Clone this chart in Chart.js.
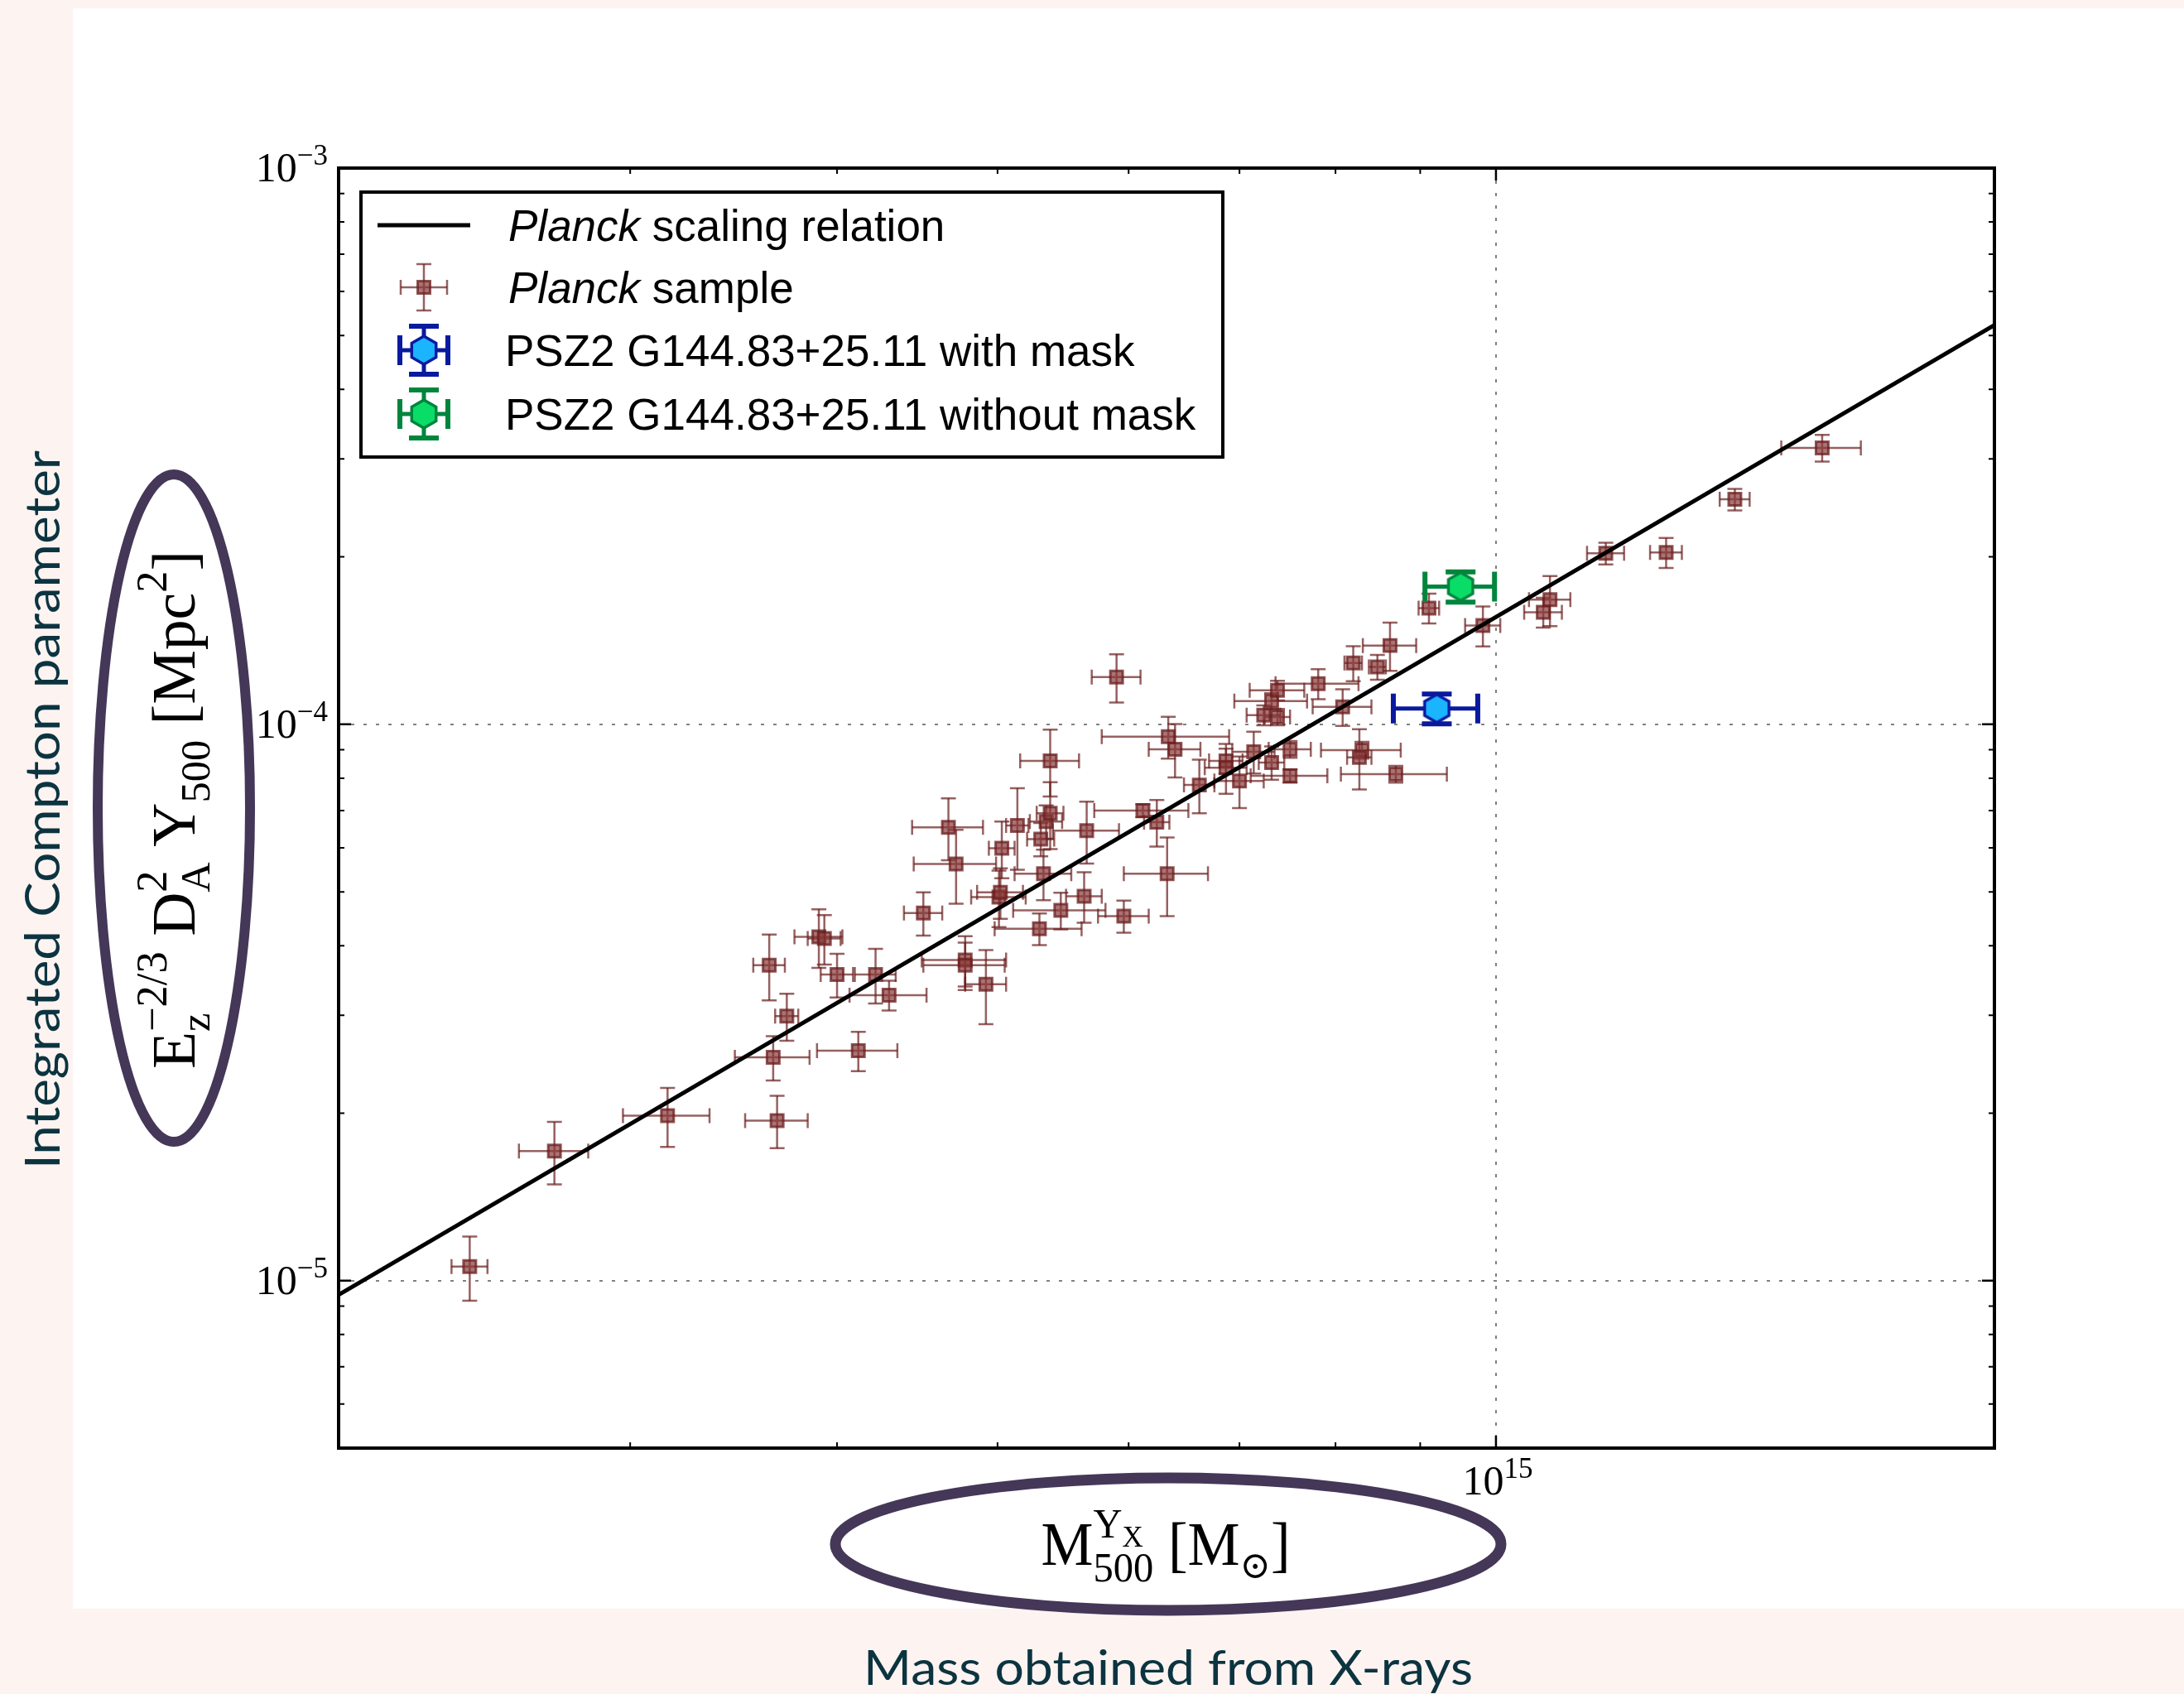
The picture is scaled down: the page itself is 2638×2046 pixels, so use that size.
<!DOCTYPE html>
<html>
<head>
<meta charset="utf-8">
<script src="https://cdn.jsdelivr.net/npm/chart.js@4.4.1/dist/chart.umd.min.js"></script>
<style>
  html, body { margin: 0; padding: 0; background: #fdf3f1; }
  canvas { display: block; }
</style>
</head>
<body>
<canvas id="chart" width="2638" height="2046"></canvas>
<script>
// units used in the arrays below
var massUnit = 1e14;   // M_sun
var yUnit = 1e-5;      // Mpc^2

// Planck sample: M500 (1e14 Msun) and E^-2/3 D_A^2 Y500 (1e-5 Mpc^2), symmetric errors
var sampleMass = [2.40, 2.70, 3.16, 3.68, 3.66, 4.12, 3.73, 3.64, 3.90, 3.93,
  4.00, 4.22, 4.30, 4.51, 4.78, 4.78, 4.92, 4.67, 4.72, 5.03,
  5.01, 5.02, 5.14, 5.31, 5.35, 5.38, 5.33, 5.30, 5.46, 5.64,
  5.66, 5.96, 5.38, 5.90, 6.12, 6.24, 6.33, 6.34, 6.40, 6.62,
  6.87, 6.87, 7.00, 7.14, 7.32, 7.51, 7.51, 7.24, 7.38, 7.32,
  7.38, 7.81, 8.08, 8.20, 8.48, 8.63, 8.30, 8.27, 8.70, 9.11,
  9.82, 10.68, 10.78, 11.65, 12.67, 13.94, 15.74];
var sampleMassErr = [0.06, 0.13, 0.19, 0.16, 0.19, 0.23, 0.06, 0.08, 0.13, 0.09,
  0.09, 0.12, 0.23, 0.12, 0.28, 0.27, 0.14, 0.23, 0.27, 0.09,
  0.19, 0.16, 0.08, 0.10, 0.12, 0.10, 0.21, 0.32, 0.35, 0.14,
  0.26, 0.21, 0.22, 0.20, 0.40, 0.11, 0.37, 0.56, 0.23, 0.14,
  0.16, 0.20, 0.24, 0.21, 0.13, 0.22, 0.40, 0.17, 0.13, 0.37,
  0.28, 0.45, 0.33, 0.10, 0.10, 0.32, 0.46, 0.14, 0.64, 0.13,
  0.24, 0.28, 0.31, 0.30, 0.28, 0.29, 0.87];
var sampleY = [1.06, 1.71, 1.98, 1.94, 2.52, 2.59, 2.99, 3.69, 4.15, 4.12,
  3.55, 3.55, 3.26, 4.58, 3.77, 3.69, 3.41, 6.53, 5.61, 5.99,
  4.89, 4.99, 6.58, 6.22, 6.69, 6.92, 5.39, 4.29, 4.63, 4.91,
  6.44, 4.52, 8.60, 12.16, 7.00, 6.67, 5.39, 9.50, 9.02, 7.78,
  8.60, 8.36, 7.91, 8.93, 8.54, 9.02, 8.08, 10.39, 10.31, 11.01,
  11.51, 11.83, 10.75, 12.89, 12.68, 13.86, 8.99, 8.72, 8.14, 16.18,
  15.05, 15.90, 16.75, 20.30, 20.37, 25.38, 31.41];
var sampleYErr = [0.14, 0.22, 0.24, 0.21, 0.23, 0.21, 0.29, 0.50, 0.50, 0.42,
  0.32, 0.40, 0.20, 0.41, 0.39, 0.36, 0.52, 0.83, 0.85, 0.70,
  0.57, 0.52, 1.10, 0.43, 0.46, 0.95, 0.56, 0.28, 0.35, 0.51,
  0.82, 0.30, 1.18, 1.21, 0.19, 0.64, 0.87, 0.82, 0.99, 0.86,
  0.44, 0.86, 0.84, 0.77, 0.59, 0.31, 0.22, 0.43, 0.35, 0.37,
  0.47, 0.73, 0.81, 0.93, 0.65, 1.38, 0.31, 1.08, 0.28, 1.00,
  1.24, 0.98, 1.73, 0.91, 1.26, 1.13, 1.73];

// Planck scaling relation (end points)
var relationMass = [2, 20];
var relationY = [0.943, 52.2];

// PSZ2 G144.83+25.11
var maskMass = [9.21], maskMassErr = [0.54], maskY = [10.68], maskYErr = [0.66];
var noMaskMass = [9.52], noMaskMassErr = [0.46], noMaskY = [17.69], noMaskYErr = [1.10];

var xMajorTicks = [1e15];
var xTickLabels = [['10', '15']];
var yMajorTicks = [1e-5, 1e-4, 1e-3];
var yTickLabels = [['10', '\u22125'], ['10', '\u22124'], ['10', '\u22123']];

var legendLabels = [
  [['Planck', true], [' scaling relation', false]],
  [['Planck', true], [' sample', false]],
  [['PSZ2 G144.83+25.11 with mask', false]],
  [['PSZ2 G144.83+25.11 without mask', false]]
];

var squareFill = 'rgba(135,55,55,0.7)';
var squareEdge = 'rgba(105,30,30,0.75)';
var brown = { color: 'rgba(105,30,30,0.7)', width: 2.5, cap: 9, capWidth: 2.5 };
var blue = { color: '#0a1a9e', width: 5, cap: 18, capWidth: 6 };
var green = { color: '#00853d', width: 5, cap: 18, capWidth: 6 };

function points(mass, massErr, y, yErr) {
  return mass.map(function (m, i) {
    return { x: m * massUnit, y: y[i] * yUnit, xe: massErr[i] * massUnit, ye: yErr[i] * yUnit };
  });
}

function hexMarker(fill, edge) {
  var c = document.createElement('canvas');
  c.width = 42; c.height = 42;
  var g = c.getContext('2d');
  g.beginPath();
  for (var k = 0; k < 6; k++) {
    var a = Math.PI / 2 + k * Math.PI / 3;
    var px = 21 + 17 * Math.cos(a), py = 21 - 17 * Math.sin(a);
    if (k) g.lineTo(px, py); else g.moveTo(px, py);
  }
  g.closePath();
  g.fillStyle = fill; g.fill();
  g.lineWidth = 3.5; g.strokeStyle = edge; g.stroke();
  return c;
}
var blueHex = hexMarker('#1ab4ff', '#0a1a9e');
var greenHex = hexMarker('#0adc68', '#00853d');

function errorGlyph(ctx, cx, cy, x0, x1, y0, y1, st) {
  ctx.strokeStyle = st.color;
  ctx.lineWidth = st.width;
  ctx.beginPath();
  ctx.moveTo(x0, cy); ctx.lineTo(x1, cy);
  ctx.moveTo(cx, y0); ctx.lineTo(cx, y1);
  ctx.stroke();
  ctx.lineWidth = st.capWidth;
  ctx.beginPath();
  ctx.moveTo(x0, cy - st.cap); ctx.lineTo(x0, cy + st.cap);
  ctx.moveTo(x1, cy - st.cap); ctx.lineTo(x1, cy + st.cap);
  ctx.moveTo(cx - st.cap, y0); ctx.lineTo(cx + st.cap, y0);
  ctx.moveTo(cx - st.cap, y1); ctx.lineTo(cx + st.cap, y1);
  ctx.stroke();
}

// rich text: runs of {t, size, dy, mode: 'next' | 'stack' | 'follow', italic}
function drawRich(ctx, runs, family, x, y, opts) {
  var pos = [], cursor = 0, groupStart = 0, prevEnd = 0;
  runs.forEach(function (r) {
    ctx.font = (r.italic ? 'italic ' : '') + r.size + 'px ' + family;
    var w = ctx.measureText(r.t).width;
    var start = r.mode === 'stack' ? groupStart : (r.mode === 'follow' ? prevEnd : cursor);
    if (!r.mode || r.mode === 'next') groupStart = start;
    pos.push(start);
    prevEnd = start + w;
    cursor = Math.max(cursor, prevEnd);
  });
  var sx = opts.width ? opts.width / cursor : 1;
  var left = opts.align === 'center' ? -cursor / 2 : (opts.align === 'right' ? -cursor : 0);
  ctx.save();
  ctx.translate(x, y);
  if (opts.rotate) ctx.rotate(opts.rotate);
  ctx.scale(sx, 1);
  ctx.fillStyle = opts.color || '#000';
  ctx.textBaseline = 'alphabetic';
  ctx.textAlign = 'left';
  runs.forEach(function (r, i) {
    ctx.font = (r.italic ? 'italic ' : '') + r.size + 'px ' + family;
    ctx.fillText(r.t, left + pos[i], r.dy || 0);
  });
  ctx.restore();
}

var serif = '"Liberation Serif", "DejaVu Serif", serif';
var sans = '"Liberation Sans", Arial, sans-serif';
var note = 'Lato, "Open Sans", sans-serif';

var decor = {
  id: 'decor',
  beforeDraw: function (chart) {
    var ctx = chart.ctx;
    ctx.save();
    ctx.fillStyle = '#fdf3f1';
    ctx.fillRect(0, 0, chart.width, chart.height);
    ctx.fillStyle = '#ffffff';
    ctx.fillRect(88, 10, chart.width - 88, 1933);
    ctx.restore();
  },
  beforeDatasetsDraw: function (chart) {
    var ctx = chart.ctx, a = chart.chartArea, xs = chart.scales.x, ys = chart.scales.y;
    ctx.save();
    ctx.strokeStyle = '#808080';
    ctx.lineWidth = 2;
    ctx.setLineDash([4, 11]);
    ctx.beginPath();
    yMajorTicks.forEach(function (v) {
      var p = Math.round(ys.getPixelForValue(v));
      ctx.moveTo(a.left, p); ctx.lineTo(a.right, p);
    });
    xMajorTicks.forEach(function (v) {
      var p = Math.round(xs.getPixelForValue(v));
      ctx.moveTo(p, a.top); ctx.lineTo(p, a.bottom);
    });
    ctx.stroke();
    ctx.restore();
  },
  beforeDatasetDraw: function (chart, args) {
    var ds = chart.data.datasets[args.index];
    if (!ds.errorStyle) return;
    var ctx = chart.ctx, a = chart.chartArea, xs = chart.scales.x, ys = chart.scales.y;
    ctx.save();
    ctx.beginPath();
    ctx.rect(a.left, a.top, a.right - a.left, a.bottom - a.top);
    ctx.clip();
    ds.data.forEach(function (p) {
      errorGlyph(ctx, xs.getPixelForValue(p.x), ys.getPixelForValue(p.y),
        xs.getPixelForValue(p.x - p.xe), xs.getPixelForValue(p.x + p.xe),
        ys.getPixelForValue(p.y - p.ye), ys.getPixelForValue(p.y + p.ye), ds.errorStyle);
    });
    ctx.restore();
  },
  afterDatasetsDraw: function (chart) {
    var ctx = chart.ctx, a = chart.chartArea, xs = chart.scales.x, ys = chart.scales.y;
    ctx.save();
    ctx.strokeStyle = '#000';
    // inward ticks on all four sides
    function tickSet(scale, vertical, len, width) {
      var vals = [];
      var lo = Math.floor(Math.log10(scale.min)), hi = Math.ceil(Math.log10(scale.max));
      for (var n = lo; n <= hi; n++) {
        for (var k = 1; k <= 9; k++) {
          var v = k * Math.pow(10, n);
          if (v >= scale.min * 0.999 && v <= scale.max * 1.001 && ((k === 1) === (len > 10))) vals.push(v);
        }
      }
      ctx.lineWidth = width;
      ctx.beginPath();
      vals.forEach(function (v) {
        var p = scale.getPixelForValue(v);
        if (vertical) {
          ctx.moveTo(a.left, p); ctx.lineTo(a.left + len, p);
          ctx.moveTo(a.right, p); ctx.lineTo(a.right - len, p);
        } else {
          ctx.moveTo(p, a.bottom); ctx.lineTo(p, a.bottom - len);
          ctx.moveTo(p, a.top); ctx.lineTo(p, a.top + len);
        }
      });
      ctx.stroke();
    }
    tickSet(ys, true, 7, 2);
    tickSet(ys, true, 15, 2.5);
    tickSet(xs, false, 7, 2);
    tickSet(xs, false, 15, 2.5);
    ctx.lineWidth = 4;
    ctx.strokeRect(a.left, a.top, a.right - a.left, a.bottom - a.top);
    ctx.restore();

    // tick labels
    yMajorTicks.forEach(function (v, i) {
      var p = ys.getPixelForValue(v);
      drawRich(ctx, [
        { t: yTickLabels[i][0], size: 50, dy: 0 },
        { t: yTickLabels[i][1], size: 35, dy: -20 }
      ], serif, a.left - 13, p + 16, { align: 'right' });
    });
    xMajorTicks.forEach(function (v, i) {
      var p = xs.getPixelForValue(v);
      drawRich(ctx, [
        { t: xTickLabels[i][0], size: 50, dy: 0 },
        { t: xTickLabels[i][1], size: 35, dy: -20 }
      ], serif, p + 2, a.bottom + 56, { align: 'center' });
    });
  },
  afterDraw: function (chart) {
    var ctx = chart.ctx;

    // axis labels
    drawRich(ctx, [
      { t: 'E', size: 73 },
      { t: 'z', size: 50, dy: 18 },
      { t: '\u22122/3', size: 52, dy: -34, mode: 'stack' },
      { t: ' D', size: 73 },
      { t: 'A', size: 50, dy: 18 },
      { t: '2', size: 52, dy: -34, mode: 'stack' },
      { t: ' Y', size: 73 },
      { t: '500', size: 50, dy: 18 },
      { t: ' [Mpc', size: 73 },
      { t: '2', size: 52, dy: -34 },
      { t: ']', size: 73 }
    ], serif, 235, 978, { align: 'center', rotate: -Math.PI / 2, width: 626 });

    drawRich(ctx, [
      { t: 'M', size: 73 },
      { t: '500', size: 50, dy: 20 },
      { t: 'Y', size: 50, dy: -33, mode: 'stack' },
      { t: 'X', size: 36, dy: -22, mode: 'follow' },
      { t: ' [M', size: 73 },
      { t: '\u2299', size: 46, dy: 16 },
      { t: ']', size: 73 }
    ], serif, 1408, 1890, { align: 'center', width: 301 });

    // annotations
    drawRich(ctx, [{ t: 'Integrated Compton parameter', size: 58 }], note, 72, 978,
      { align: 'center', rotate: -Math.PI / 2, width: 868, color: '#0b3440' });
    drawRich(ctx, [{ t: 'Mass obtained from X-rays', size: 58 }], note, 1411, 2035,
      { align: 'center', width: 736, color: '#0b3440' });

    ctx.save();
    ctx.strokeStyle = '#453758';
    ctx.lineWidth = 12;
    ctx.beginPath();
    ctx.ellipse(210, 976, 92, 403, 0, 0, Math.PI * 2);
    ctx.stroke();
    ctx.lineWidth = 13;
    ctx.beginPath();
    ctx.ellipse(1411, 1865, 402, 80, 0, 0, Math.PI * 2);
    ctx.stroke();
    ctx.restore();

    // legend
    ctx.save();
    ctx.fillStyle = '#fff';
    ctx.fillRect(436, 232, 1041, 320);
    ctx.strokeStyle = '#000';
    ctx.lineWidth = 4;
    ctx.strokeRect(436, 232, 1041, 320);
    var rows = [272, 347, 423, 500], mx = 512;
    ctx.lineWidth = 5;
    ctx.beginPath();
    ctx.moveTo(456, rows[0]); ctx.lineTo(568, rows[0]);
    ctx.stroke();
    errorGlyph(ctx, mx, rows[1], mx - 28, mx + 28, rows[1] - 28, rows[1] + 28, brown);
    ctx.fillStyle = squareFill;
    ctx.fillRect(mx - 7.5, rows[1] - 7.5, 15, 15);
    ctx.strokeStyle = squareEdge;
    ctx.lineWidth = 3;
    ctx.strokeRect(mx - 7.5, rows[1] - 7.5, 15, 15);
    errorGlyph(ctx, mx, rows[2], mx - 29, mx + 29, rows[2] - 29, rows[2] + 29, blue);
    ctx.drawImage(blueHex, mx - 21, rows[2] - 21);
    errorGlyph(ctx, mx, rows[3], mx - 29, mx + 29, rows[3] - 29, rows[3] + 29, green);
    ctx.drawImage(greenHex, mx - 21, rows[3] - 21);
    ctx.restore();
    legendLabels.forEach(function (parts, i) {
      drawRich(ctx, parts.map(function (p) {
        return { t: p[0], size: 53, italic: p[1] };
      }), sans, i < 2 ? 614 : 610, rows[i] + 19, { align: 'left' });
    });
  }
};

new Chart(document.getElementById('chart'), {
  type: 'scatter',
  data: {
    datasets: [
      {
        label: 'Planck sample',
        data: points(sampleMass, sampleMassErr, sampleY, sampleYErr),
        pointStyle: 'rect',
        pointRadius: 10.6,
        backgroundColor: squareFill,
        borderColor: squareEdge,
        borderWidth: 3,
        errorStyle: brown,
        order: 3
      },
      {
        label: 'Planck scaling relation',
        data: relationMass.map(function (m, i) { return { x: m * massUnit, y: relationY[i] * yUnit }; }),
        showLine: true,
        borderColor: '#000',
        borderWidth: 5,
        pointRadius: 0,
        clip: 0,
        order: 2
      },
      {
        label: 'PSZ2 G144.83+25.11 with mask',
        data: points(maskMass, maskMassErr, maskY, maskYErr),
        pointStyle: blueHex,
        pointRadius: 17,
        errorStyle: blue,
        order: 1
      },
      {
        label: 'PSZ2 G144.83+25.11 without mask',
        data: points(noMaskMass, noMaskMassErr, noMaskY, noMaskYErr),
        pointStyle: greenHex,
        pointRadius: 17,
        errorStyle: green,
        order: 0
      }
    ]
  },
  options: {
    responsive: false,
    animation: false,
    devicePixelRatio: 1,
    events: [],
    layout: { padding: { left: 409, top: 203, right: 229, bottom: 297 } },
    scales: {
      x: { type: 'logarithmic', min: 2e14, max: 2e15, display: false },
      y: { type: 'logarithmic', min: 5e-6, max: 1e-3, display: false }
    },
    plugins: { legend: { display: false }, tooltip: { enabled: false } }
  },
  plugins: [decor]
});
</script>
</body>
</html>
